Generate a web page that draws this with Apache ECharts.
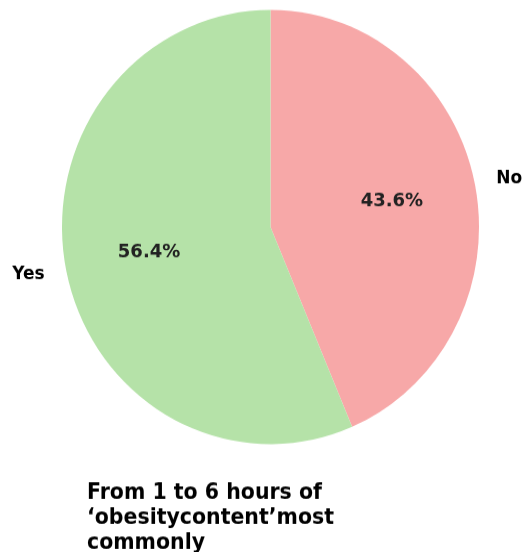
<!DOCTYPE html>
<html><head><meta charset="utf-8">
<script src="https://cdn.jsdelivr.net/npm/echarts@6/dist/echarts.min.js"></script>
<style>html,body{margin:0;padding:0;background:#fff;overflow:hidden;width:526px;height:552px}#c{width:526px;height:552px;transform:scaleY(1.0415);transform-origin:0 0}</style>
</head><body><div id="c"></div>
<script>
var categories = ['No', 'Yes'];
var values = [43.6, 56.4];
var colors = ['#f7a8a8', '#b5e2a8'];
var titleText = 'From 1 to 6 hours of\n\u2018obesitycontent\u2019most\ncommonly';

var R = 208.5;
var FONT = 'DejaVu Sans';
var data = categories.map(function (c, i) { return { name: c, value: values[i], itemStyle: { color: colors[i] } }; });
var chart = echarts.init(document.getElementById('c'));
chart.setOption({
  animation: false,
  title: {
    text: titleText, left: 82, top: 456.5,
    textStyle: { fontFamily: FONT, fontWeight: 'bold', fontSize: 20.5, lineHeight: 24, color: '#000' }
  },
  series: [
    {
      type: 'pie', center: [270.5, 218], radius: [0, R], startAngle: 90, clockwise: true,
      silent: true, data: data,
      label: { show: true, position: 'outside', formatter: '{b}', fontFamily: FONT, fontWeight: 'bold', fontSize: 17, color: '#000', distanceToLabelLine: 0, overflow: 'none', edgeDistance: 0 },
      labelLine: { show: false, length: 22, length2: 0 },
      labelLayout: { hideOverlap: false },
      itemStyle: { borderWidth: 0 }
    },
    {
      type: 'pie', center: [270.5, 218], radius: [0, R * 1.16], startAngle: 90, clockwise: true,
      silent: true, z: 5,
      data: categories.map(function (c, i) { return { name: c, value: values[i] }; }),
      itemStyle: { color: 'rgba(0,0,0,0)', borderWidth: 0 },
      label: { show: true, position: 'inside', formatter: function (p) { return p.value.toFixed(1) + '%'; }, fontFamily: FONT, fontWeight: 'bold', fontSize: 18, color: '#222' },
      labelLine: { show: false }
    }
  ]
});
</script></body></html>
